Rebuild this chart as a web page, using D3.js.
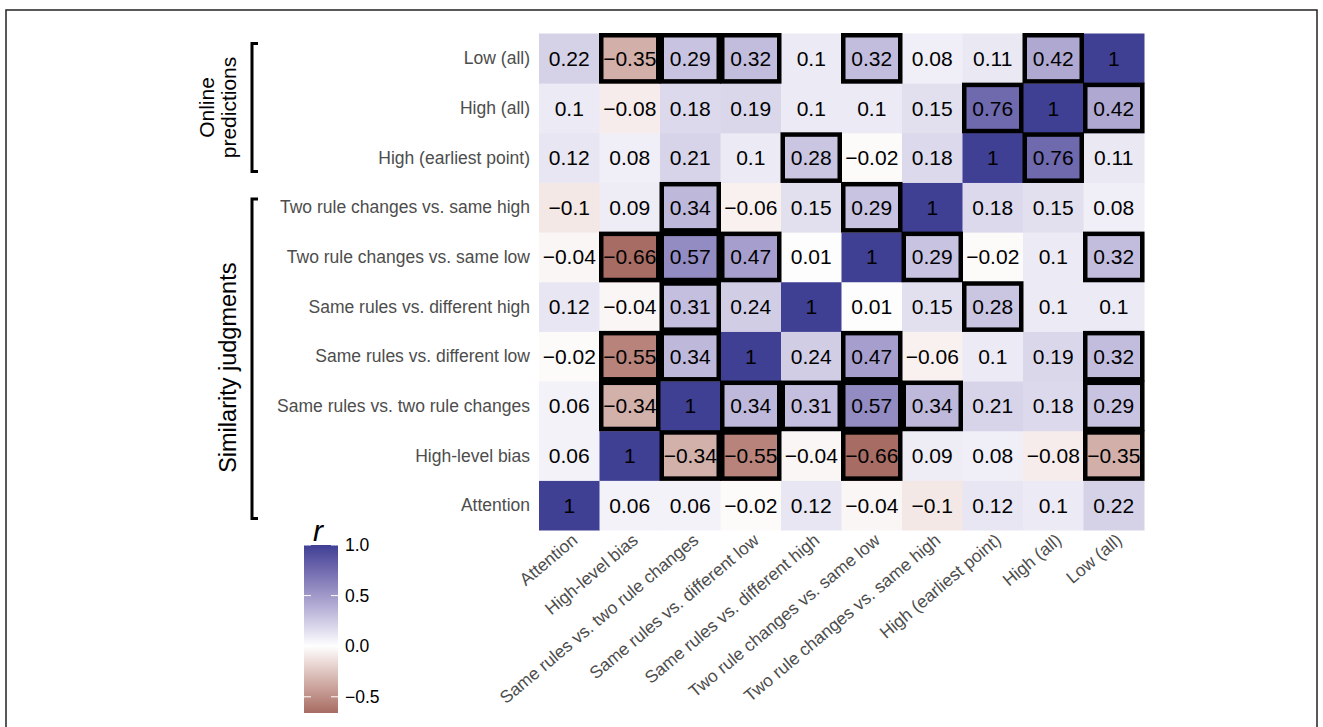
<!DOCTYPE html>
<html>
<head>
<meta charset="utf-8">
<script src="https://cdn.jsdelivr.net/npm/d3@7"></script>
<style>
  body { margin: 0; background: #fff; }
  text { font-family: "Liberation Sans", Arial, Helvetica, sans-serif; }
</style>
</head>
<body>
<div id="chart"></div>
<script>
// variables, in column order (rows run the other way, Attention at the bottom)
var vars = ["Attention", "High-level bias", "Same rules vs. two rule changes",
  "Same rules vs. different low", "Same rules vs. different high",
  "Two rule changes vs. same low", "Two rule changes vs. same high",
  "High (earliest point)", "High (all)", "Low (all)"];

// correlation matrix, one row per variable (same order as vars)
var rAttention = [1, 0.06, 0.06, -0.02, 0.12, -0.04, -0.1, 0.12, 0.1, 0.22];
var rBias      = [0.06, 1, -0.34, -0.55, -0.04, -0.66, 0.09, 0.08, -0.08, -0.35];
var rSameTwo   = [0.06, -0.34, 1, 0.34, 0.31, 0.57, 0.34, 0.21, 0.18, 0.29];
var rSameLow   = [-0.02, -0.55, 0.34, 1, 0.24, 0.47, -0.06, 0.1, 0.19, 0.32];
var rSameHigh  = [0.12, -0.04, 0.31, 0.24, 1, 0.01, 0.15, 0.28, 0.1, 0.1];
var rTwoLow    = [-0.04, -0.66, 0.57, 0.47, 0.01, 1, 0.29, -0.02, 0.1, 0.32];
var rTwoHigh   = [-0.1, 0.09, 0.34, -0.06, 0.15, 0.29, 1, 0.18, 0.15, 0.08];
var rHighEarly = [0.12, 0.08, 0.21, 0.1, 0.28, -0.02, 0.18, 1, 0.76, 0.11];
var rHighAll   = [0.1, -0.08, 0.18, 0.19, 0.1, 0.1, 0.15, 0.76, 1, 0.42];
var rLowAll    = [0.22, -0.35, 0.29, 0.32, 0.1, 0.32, 0.08, 0.11, 0.42, 1];
var matrix = [rAttention, rBias, rSameTwo, rSameLow, rSameHigh, rTwoLow, rTwoHigh, rHighEarly, rHighAll, rLowAll];

// significant pairs (boxed), given as index pairs into vars
var sigPairs = [[1,9],[2,9],[3,9],[5,9],[8,9],[7,8],[4,7],[2,6],[5,6],
  [1,5],[2,5],[3,5],[1,3],[1,2],[2,3],[2,4]];

// groups for the brackets on the left (first..last var index)
var groupLines = [["Online", "predictions"], ["Similarity judgments"]];
var groupFrom = [7, 0];
var groupTo = [9, 6];

var legendTicks = [-0.5, 0, 0.5, 1];
var rMin = -0.66, rMax = 1;

var width = 1323, height = 727;
var svg = d3.select("#chart").append("svg")
  .attr("width", width).attr("height", height);

// outer frame
svg.append("rect")
  .attr("x", 6).attr("y", 10).attr("width", 1311).attr("height", 740)
  .attr("fill", "none").attr("stroke", "#222").attr("stroke-width", 1.5);

var x = d3.scaleBand().domain(vars).range([539, 1144]);
var y = d3.scaleBand().domain(vars).range([530, 33.5]);

var color = d3.scaleLinear()
  .domain([rMin, 0, rMax])
  .range(["#a76c63", "#ffffff", "#3f3f94"])
  .interpolate(d3.interpolateLab);

// flatten into cells
var cells = [];
matrix.forEach(function(row, i) {
  row.forEach(function(v, j) {
    cells.push({row: vars[i], col: vars[j], r: v});
  });
});

var fmt = function(v) { return String(v).replace("-", "\u2212"); };

var grid = svg.append("g");

grid.selectAll("rect.tile")
  .data(cells)
  .enter().append("rect")
  .attr("class", "tile")
  .attr("x", function(d) { return x(d.col); })
  .attr("y", function(d) { return y(d.row); })
  .attr("width", x.bandwidth() + 0.5)
  .attr("height", y.bandwidth() + 0.5)
  .attr("fill", function(d) { return color(d.r); });

// boxes around significant cells (both halves of the matrix)
var boxes = [];
sigPairs.forEach(function(p) {
  boxes.push({row: vars[p[0]], col: vars[p[1]]});
  boxes.push({row: vars[p[1]], col: vars[p[0]]});
});

grid.selectAll("rect.box")
  .data(boxes)
  .enter().append("rect")
  .attr("class", "box")
  .attr("x", function(d) { return x(d.col) + 1.75; })
  .attr("y", function(d) { return y(d.row) + 1.75; })
  .attr("width", x.bandwidth() - 3.5)
  .attr("height", y.bandwidth() - 3.5)
  .attr("fill", "none")
  .attr("stroke", "#000")
  .attr("stroke-width", 4.5);

grid.selectAll("text.val")
  .data(cells)
  .enter().append("text")
  .attr("class", "val")
  .attr("x", function(d) { return x(d.col) + x.bandwidth() / 2; })
  .attr("y", function(d) { return y(d.row) + y.bandwidth() / 2; })
  .attr("dy", "0.36em")
  .attr("text-anchor", "middle")
  .attr("font-size", 21)
  .attr("fill", "#000")
  .text(function(d) { return fmt(d.r); });

// row labels
svg.append("g").selectAll("text")
  .data(vars)
  .enter().append("text")
  .attr("x", 530)
  .attr("y", function(d) { return y(d) + y.bandwidth() / 2; })
  .attr("dy", "0.35em")
  .attr("text-anchor", "end")
  .attr("font-size", 17.5)
  .attr("fill", "#4d4d4d")
  .text(function(d) { return d; });

// column labels, rotated
svg.append("g").selectAll("text")
  .data(vars)
  .enter().append("text")
  .attr("transform", function(d) {
    return "translate(" + (x(d) + x.bandwidth() / 2 + 1) + ",532) rotate(-40)";
  })
  .attr("dy", "0.75em")
  .attr("text-anchor", "end")
  .attr("font-size", 17.5)
  .attr("fill", "#4d4d4d")
  .text(function(d) { return d; });

// brackets + group titles
var bx = 252;
var bracketInset = [[10, 11], [16.5, 11.5]];
var groupFont = [21, 23.5];
var groupShift = [0, 9];
groupLines.forEach(function(lines, gi) {
  var top = y(vars[groupTo[gi]]) + bracketInset[gi][0];
  var bot = y(vars[groupFrom[gi]]) + y.bandwidth() - bracketInset[gi][1];
  svg.append("path")
    .attr("d", "M" + (bx + 6) + "," + top + "H" + bx + "V" + bot + "H" + (bx + 6))
    .attr("fill", "none").attr("stroke", "#000").attr("stroke-width", 3);
  var mid = (top + bot) / 2 + groupShift[gi];
  var n = lines.length;
  lines.forEach(function(line, k) {
    svg.append("text")
      .attr("transform", "translate(" + (236 - (n - 1 - k) * 22) + "," + mid + ") rotate(-90)")
      .attr("text-anchor", "middle")
      .attr("font-size", groupFont[gi])
      .attr("fill", "#000")
      .text(line);
  });
});

// colour legend
var ly = d3.scaleLinear().domain([rMin, rMax]).range([713, 545]);
var grad = svg.append("defs").append("linearGradient")
  .attr("id", "rgrad").attr("x1", 0).attr("x2", 0).attr("y1", 1).attr("y2", 0);
d3.range(0, 1.0001, 0.05).forEach(function(t) {
  var v = rMin + t * (rMax - rMin);
  grad.append("stop").attr("offset", t).attr("stop-color", color(v));
});
var legend = svg.append("g");
legend.append("rect")
  .attr("x", 304).attr("y", 545).attr("width", 34).attr("height", 168)
  .attr("fill", "url(#rgrad)");
legend.selectAll("g.tk")
  .data(legendTicks)
  .enter().append("g")
  .attr("class", "tk")
  .each(function(d) {
    var g = d3.select(this);
    g.append("line").attr("x1", 304).attr("x2", 311)
      .attr("y1", ly(d)).attr("y2", ly(d)).attr("stroke", "#fff").attr("stroke-width", 1);
    g.append("line").attr("x1", 331).attr("x2", 338)
      .attr("y1", ly(d)).attr("y2", ly(d)).attr("stroke", "#fff").attr("stroke-width", 1);
  });
legend.selectAll("text.lab")
  .data(legendTicks)
  .enter().append("text")
  .attr("class", "lab")
  .attr("x", 345)
  .attr("y", function(d) { return ly(d); })
  .attr("dy", "0.35em")
  .attr("font-size", 17.5)
  .attr("fill", "#000")
  .text(d3.format(".1f"));
legend.append("text")
  .attr("x", 313).attr("y", 541)
  .attr("font-size", 30)
  .attr("font-style", "italic")
  .attr("fill", "#000")
  .text("r");
</script>
</body>
</html>
